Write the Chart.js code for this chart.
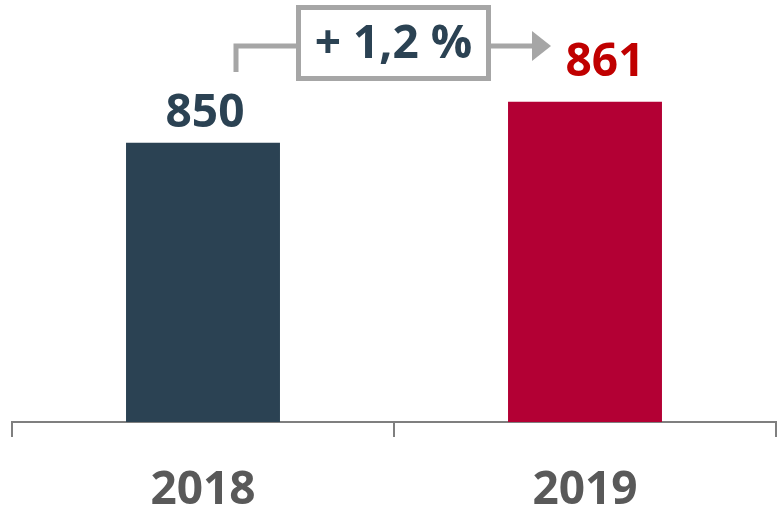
<!DOCTYPE html>
<html>
<head>
<meta charset="utf-8">
<script src="https://cdn.jsdelivr.net/npm/chart.js@4/dist/chart.umd.min.js"></script>
<style>
  html, body { margin: 0; padding: 0; background: #fff; }
  #wrap { width: 777px; height: 510px; }
</style>
</head>
<body>
<div id="wrap"><canvas id="kpi-chart"></canvas></div>
<script>
    // chart data
    const years = ['2018', '2019'];
    const totals = [850, 861];
    const changeLabel = '+ 1,2 %';

    const barColors = ['#2B4253', '#B30034'];
    const valueColors = ['#2B4253', '#C00000'];
    const labelGaps = [16, 26];
    const labelShift = [2, 20];

    // value labels + growth arrow
    const overlay = {
        id: 'overlay',
        afterDatasetsDraw(chart) {
            const ctx = chart.ctx;
            const meta = chart.getDatasetMeta(0);
            ctx.save();
            ctx.font = 'bold 46px "Open Sans"';
            ctx.textAlign = 'center';
            ctx.textBaseline = 'alphabetic';
            meta.data.forEach(function(bar, i) {
                ctx.fillStyle = valueColors[i];
                ctx.fillText(String(totals[i]), bar.x + labelShift[i], bar.y - labelGaps[i]);
            });

            const b1 = meta.data[0], b2 = meta.data[1];
            const startX = b1.x + 33;
            const tipX = b2.x - b2.width / 2 + 43;
            const lineY = 46;
            const boxL = 298.5, boxR = 488.5;

            ctx.strokeStyle = '#A6A6A6';
            ctx.fillStyle = '#A6A6A6';
            ctx.lineWidth = 5;
            ctx.beginPath();
            ctx.moveTo(startX, 72);
            ctx.lineTo(startX, lineY);
            ctx.lineTo(boxL, lineY);
            ctx.moveTo(boxR, lineY);
            ctx.lineTo(tipX - 18, lineY);
            ctx.stroke();
            ctx.beginPath();
            ctx.moveTo(tipX - 19, lineY - 15);
            ctx.lineTo(tipX, lineY);
            ctx.lineTo(tipX - 19, lineY + 15);
            ctx.closePath();
            ctx.fill();

            ctx.strokeRect(boxL, 7.5, boxR - boxL, 71);
            ctx.fillStyle = '#2B4253';
            ctx.textBaseline = 'middle';
            ctx.fillText(changeLabel, (boxL + boxR) / 2, 45);
            ctx.restore();
        }
    };

    const ctx = document.getElementById('kpi-chart').getContext('2d');
    const chart = new Chart(ctx, {
        type: 'bar',
        data: {
            labels: years,
            datasets: [{
                data: totals,
                backgroundColor: barColors,
                borderWidth: 0,
                barPercentage: 0.403,
                categoryPercentage: 1
            }]
        },
        options: {
            responsive: true,
            maintainAspectRatio: false,
            animation: false,
            layout: { padding: { left: 12, right: 1, top: 31, bottom: 0 } },
            plugins: {
                legend: { display: false },
                tooltip: { enabled: false }
            },
            scales: {
                y: {
                    display: false,
                    min: 775,
                    max: 880
                },
                x: {
                    afterFit: function(scale) { scale.height = 88; },
                    border: { display: true, color: '#7F7F7F', width: 2 },
                    grid: {
                        offset: true,
                        drawOnChartArea: false,
                        drawTicks: true,
                        tickLength: 15,
                        color: '#7F7F7F',
                        lineWidth: 2
                    },
                    ticks: {
                        color: '#595959',
                        padding: 26,
                        font: { family: '"Open Sans"', size: 46, weight: 'bold' }
                    }
                }
            }
        },
        plugins: [overlay]
    });
</script>
</body>
</html>
